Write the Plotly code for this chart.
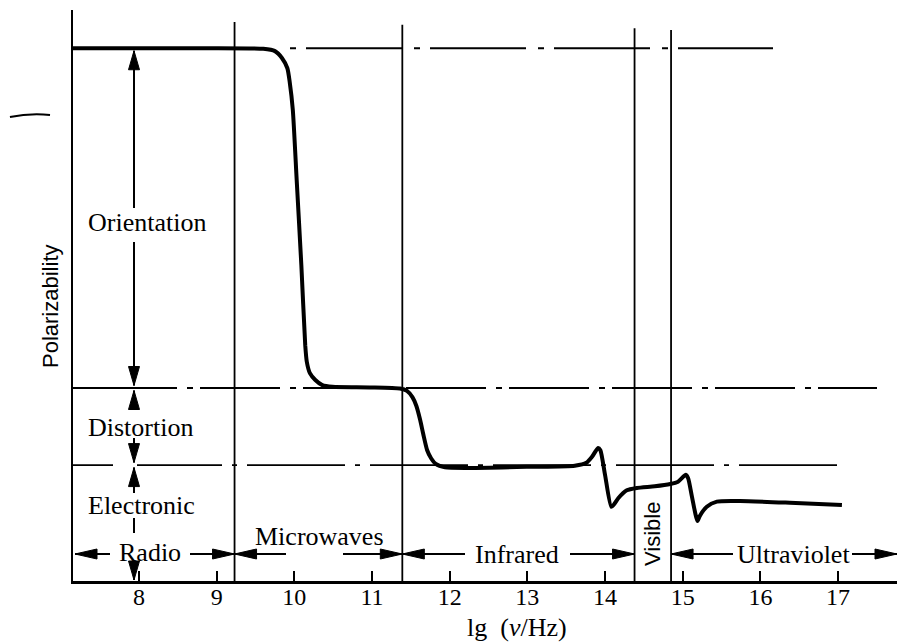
import plotly.graph_objects as go

# ---------------- data ----------------
lg_nu = [7.15, 8.79, 9.60, 9.75, 9.84, 9.91, 9.94, 9.98, 10.03, 10.09, 10.14, 10.16,
         10.20, 10.27, 10.36, 10.49, 10.97, 11.36, 11.45, 11.52, 11.57, 11.62, 11.66,
         11.71, 11.76, 11.82, 11.94, 12.26, 13.03, 13.61, 13.76, 13.83, 13.91, 13.94,
         14.00, 14.08, 14.12, 14.17, 14.28, 14.41, 14.64, 14.84, 14.94, 15.04, 15.07,
         15.12, 15.19, 15.22, 15.31, 15.44, 15.74, 16.38, 17.05]
polarizability = [9.33, 9.33, 9.32, 9.28, 9.16, 8.98, 8.74, 8.25, 7.02, 5.53, 4.13, 3.84,
                  3.64, 3.52, 3.43, 3.40, 3.39, 3.37, 3.33, 3.22, 3.07, 2.82, 2.57,
                  2.29, 2.15, 2.05, 1.99, 1.98, 2.00, 2.02, 2.07, 2.17, 2.33, 2.29,
                  1.86, 1.30, 1.35, 1.45, 1.59, 1.63, 1.66, 1.70, 1.74, 1.86, 1.80,
                  1.47, 1.05, 1.14, 1.30, 1.39, 1.40, 1.37, 1.33]

boundaries = [9.23, 11.39, 14.38, 14.85]
boundary_tops = [9.79, 9.74, 9.68, 9.65]
level_orientation = 9.33
level_distortion = 3.38
level_electronic = 2.03
tick_vals = [8, 9, 10, 11, 12, 13, 14, 15, 16, 17]
region_names = ["Radio", "Microwaves", "Infrared", "Visible", "Ultraviolet"]
mechanism_names = ["Orientation", "Distortion", "Electronic"]

# ---------------- layout geometry ----------------
W, H = 897, 642
PL, PT, PR, PB = 73, 10, 897, 581   # plot area in page pixels
ML, MT, MR, MB = PL, PT, W - PR, H - PB
XR = [7.15, 17.759]
YR = [0.0, 10.0]
PW = PR - PL
PH = PB - PT
XS = PW / (XR[1] - XR[0])   # px per x unit
YS = PH / (YR[1] - YR[0])   # px per y unit


def px2x(p):
    return XR[0] + (p - PL) / XS


def py2y(p):
    return YR[0] + (PB - p) / YS


def pxp(p):
    return (p - PL) / PW


def pyp(p):
    return (PB - p) / PH


SERIF = "Liberation Serif, Times New Roman, serif"
SANS = "Liberation Sans, Arial, sans-serif"

shapes = []
annotations = []


def seg(x0, y0, x1, y1, width=2.0, dash="solid"):
    shapes.append(dict(type="line", xref="x", yref="y", x0=x0, y0=y0, x1=x1, y1=y1,
                       line=dict(color="black", width=width, dash=dash), layer="above"))


def head(xt, yt, direction, L=19, Wd=11):
    if direction in ("up", "down"):
        dy = L / YS * (1 if direction == "up" else -1)
        wx = Wd / 2 / XS
        pts = [(xt, yt), (xt - wx, yt - dy), (xt + wx, yt - dy)]
    else:
        dx = L / XS * (1 if direction == "right" else -1)
        wy = Wd / 2 / YS
        pts = [(xt, yt), (xt - dx, yt - wy), (xt - dx, yt + wy)]
    path = "M " + " L ".join(f"{a:.5f},{b:.5f}" for a, b in pts) + " Z"
    shapes.append(dict(type="path", xref="x", yref="y", path=path,
                       fillcolor="black", line=dict(color="black", width=1), layer="above"))


# vertical region boundaries
for b, t in zip(boundaries, boundary_tops):
    seg(b, YR[0], b, t, width=1.8)

# dash-dot level lines
dash_top = "6px,10px,96px,12px"
dash_mid = ",".join(["104px", "10px", "6px", "7px"] + ["80px", "10px", "6px", "7px"] * 8)
dash_bot = ",".join(["40px", "24px", "85px", "10px", "5px", "10px"] + ["98px", "10px", "5px", "10px"] * 7)
seg(px2x(290), level_orientation, px2x(773), level_orientation, width=1.8, dash=dash_top)
seg(XR[0], level_distortion, px2x(877), level_distortion, width=1.8, dash=dash_mid)
seg(XR[0], level_electronic, px2x(845), level_electronic, width=1.8, dash=dash_bot)

# vertical mechanism arrows
xcol = px2x(134)
off = 2.5 / YS
vert_arrows = [
    (level_orientation - off, level_distortion + off, [(225, 17)]),
    (level_distortion - off, level_electronic + off, [(424, 14)]),
    (level_electronic - off, YR[0] + 1 / YS, [(505.5, 12.5), (546.5, 13.5)]),
]
for ytop, ybot, gaps in vert_arrows:
    ys = [ytop]
    for c, h in gaps:
        ys += [py2y(c - h), py2y(c + h)]
    ys.append(ybot)
    for i in range(0, len(ys), 2):
        seg(xcol, ys[i], xcol, ys[i + 1], width=2)
    head(xcol, ytop, "up", L=19, Wd=11)
    head(xcol, ybot, "down", L=19, Wd=11)

# horizontal region arrows
yarr = py2y(554)
bands = [
    (XR[0] + 2 / XS, boundaries[0], 150, 40),
    (boundaries[0], boundaries[1], 314.5, 28.5),
    (boundaries[1], boundaries[2], 517.5, 52.5),
    (boundaries[3], XR[1], 792.5, 59.5),
]
for x0, x1, c, h in bands:
    seg(x0, yarr, px2x(c - h), yarr, width=2)
    seg(px2x(c + h), yarr, x1, yarr, width=2)
    head(x0, yarr, "left", L=22, Wd=10)
    head(x1, yarr, "right", L=22, Wd=10)

# small stray mark at the left edge
shapes.append(dict(type="path", xref="paper", yref="paper",
                   path=f"M {pxp(10):.4f},{pyp(117):.4f} Q {pxp(30):.4f},{pyp(113):.4f} {pxp(50):.4f},{pyp(115):.4f}",
                   line=dict(color="black", width=2)))


# ---------------- text ----------------
def label(text, x, y, size=26, family=SERIF, xanchor="center", angle=0, xref="x", yref="y"):
    annotations.append(dict(text=text, x=x, y=y, xref=xref, yref=yref, showarrow=False,
                            xanchor=xanchor, yanchor="middle", textangle=angle,
                            font=dict(family=family, size=size, color="black")))


label(mechanism_names[0], px2x(86), py2y(222), xanchor="left")
label(mechanism_names[1], px2x(86), py2y(427), xanchor="left")
label(mechanism_names[2], px2x(86), py2y(505), xanchor="left")
label(region_names[0], px2x(150), py2y(552))
label(region_names[1], px2x(319), py2y(536))
label(region_names[2], px2x(517), py2y(554))
label(region_names[3], px2x(652), py2y(534), size=22, family=SANS, angle=-90)
label(region_names[4], px2x(793), py2y(554))
label("lg  (<i>ν</i>/Hz)", px2x(517), pyp(627), xref="x", yref="paper")
label("Polarizability", pxp(50), pyp(306), size=22, family=SANS, angle=-90,
      xref="paper", yref="paper")

# ---------------- figure ----------------
fig = go.Figure()
fig.add_trace(go.Scatter(x=lg_nu, y=polarizability, mode="lines",
                         line=dict(color="black", width=4, shape="spline", smoothing=0.6),
                         hoverinfo="skip", showlegend=False))

fig.update_layout(
    width=W, height=H,
    margin=dict(l=ML, r=MR, t=MT, b=MB, pad=0),
    paper_bgcolor="white", plot_bgcolor="white",
    showlegend=False,
    shapes=shapes,
    annotations=annotations,
    xaxis=dict(range=XR, showline=True, linecolor="black", linewidth=2.5,
               ticks="inside", ticklen=10, tickwidth=2, tickcolor="black",
               tickvals=tick_vals, ticktext=[str(v) for v in tick_vals],
               ticklabelstandoff=-7,
               tickfont=dict(family=SERIF, size=24, color="black"),
               showgrid=False, zeroline=False, fixedrange=True),
    yaxis=dict(range=YR, showline=True, linecolor="black", linewidth=2.5,
               ticks="", showticklabels=False, showgrid=False, zeroline=False,
               fixedrange=True),
)

fig.write_html(
    "out.html",
    config={"displayModeBar": False, "staticPlot": True},
    post_script="document.body.style.margin='0';document.body.style.overflow='hidden';",
)
